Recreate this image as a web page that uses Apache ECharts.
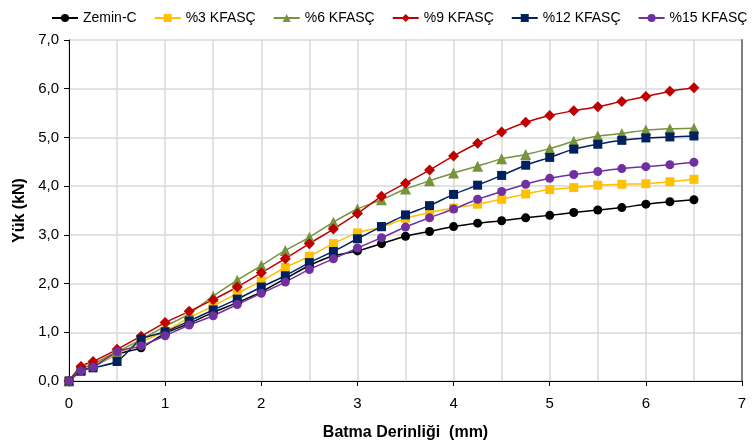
<!DOCTYPE html>
<html><head><meta charset="utf-8">
<script src="https://cdn.jsdelivr.net/npm/echarts@6/dist/echarts.min.js"></script>
<style>html,body{margin:0;padding:0;background:#fff}#c{width:754px;height:446px}</style>
</head><body><div id="c"></div>
<script>
const depth = [0,0.125,0.25,0.5,0.75,1,1.25,1.5,1.75,2,2.25,2.5,2.75,3,3.25,3.5,3.75,4,4.25,4.5,4.75,5,5.25,5.5,5.75,6,6.25,6.5];
const zeminC = [0,0.22,0.30,0.55,0.68,0.98,1.18,1.41,1.61,1.83,2.10,2.37,2.57,2.67,2.82,2.97,3.07,3.17,3.24,3.29,3.35,3.40,3.46,3.51,3.56,3.63,3.68,3.72];
const kf3 = [0,0.25,0.32,0.55,0.80,1.02,1.30,1.54,1.80,2.05,2.33,2.56,2.82,3.04,3.16,3.34,3.46,3.55,3.63,3.73,3.84,3.93,3.97,4.02,4.04,4.05,4.09,4.14];
const kf6 = [0,0.25,0.35,0.60,0.85,1.12,1.38,1.74,2.07,2.37,2.68,2.95,3.26,3.53,3.72,3.94,4.11,4.27,4.41,4.56,4.65,4.77,4.92,5.03,5.08,5.15,5.18,5.19];
const kf9 = [0,0.30,0.40,0.65,0.92,1.20,1.43,1.67,1.93,2.22,2.51,2.82,3.12,3.44,3.79,4.06,4.33,4.62,4.88,5.11,5.31,5.45,5.55,5.63,5.74,5.84,5.95,6.02];
const kf12 = [0,0.20,0.27,0.40,0.86,1.01,1.23,1.46,1.68,1.93,2.16,2.43,2.66,2.92,3.17,3.41,3.60,3.83,4.02,4.22,4.43,4.59,4.76,4.86,4.94,4.99,5.01,5.03];
const kf15 = [0,0.21,0.28,0.60,0.72,0.93,1.15,1.34,1.57,1.80,2.03,2.29,2.51,2.73,2.94,3.16,3.35,3.53,3.73,3.89,4.04,4.16,4.24,4.30,4.36,4.40,4.44,4.49];
const seriesNames = ['Zemin-C','%3 KFASÇ','%6 KFASÇ','%9 KFASÇ','%12 KFASÇ','%15 KFASÇ'];
const seriesData = [zeminC,kf3,kf6,kf9,kf12,kf15];
const colors = ['#000000','#FFC000','#77933C','#C00000','#002060','#7030A0'];
const symbols = ['circle','rect','triangle','diamond','rect','circle'];
const sizes = [9,9,11,11,9,9];

const FONT = 'Liberation Sans, Arial, sans-serif';
const chart = echarts.init(document.getElementById('c'));
chart.setOption({
  animation:false,
  color:colors,
  textStyle:{fontFamily:FONT},
  legend:{
    top:6,left:46,itemGap:17,itemWidth:26,itemHeight:10,
    textStyle:{fontSize:14,color:'#000',fontFamily:FONT},
    data:seriesNames
  },
  grid:{left:69,right:12,top:40,bottom:63,containLabel:false},
  xAxis:{
    type:'value',min:0,max:7,interval:1,
    name:'Batma Derinliği  (mm)',nameLocation:'middle',nameGap:44,
    nameTextStyle:{fontSize:16,fontWeight:'bold',color:'#000',fontFamily:FONT},
    axisLine:{show:true,lineStyle:{color:'#000',width:1}},
    axisTick:{show:true,length:5,lineStyle:{color:'#000'}},
    axisLabel:{fontSize:15,color:'#000',margin:15},
    splitLine:{show:true,lineStyle:{color:'#D9D9D9',width:1.5}},
    minorTick:{show:false,splitNumber:2},
    minorSplitLine:{show:true,lineStyle:{color:'#D9D9D9',width:1.5}}
  },
  yAxis:[{
    type:'value',min:0,max:7,interval:1,
    name:'Yük (kN)',nameLocation:'middle',nameGap:35,nameRotate:90,
    nameTextStyle:{fontSize:16,fontWeight:'bold',color:'#000',fontFamily:FONT},
    axisLine:{show:true,lineStyle:{color:'#000',width:1}},
    axisTick:{show:true,length:5,lineStyle:{color:'#000'}},
    axisLabel:{fontSize:15,color:'#000',margin:10,formatter:v=>v.toFixed(1).replace('.',',')},
    splitLine:{show:true,lineStyle:{color:'#D9D9D9',width:1.5}}
  },{
    type:'value',min:0,max:7,interval:1,position:'right',
    axisLine:{show:true,lineStyle:{color:'#808080',width:2}},
    axisTick:{show:false},axisLabel:{show:false},splitLine:{show:false}
  }],
  series:seriesNames.map((n,i)=>({
    name:n,type:'line',
    data:depth.map((d,j)=>[d,seriesData[i][j]]),
    symbol:symbols[i],symbolSize:sizes[i],
    smooth:0.2,
    lineStyle:{color:colors[i],width:1.5},
    itemStyle:{color:colors[i]}
  }))
});
</script></body></html>
